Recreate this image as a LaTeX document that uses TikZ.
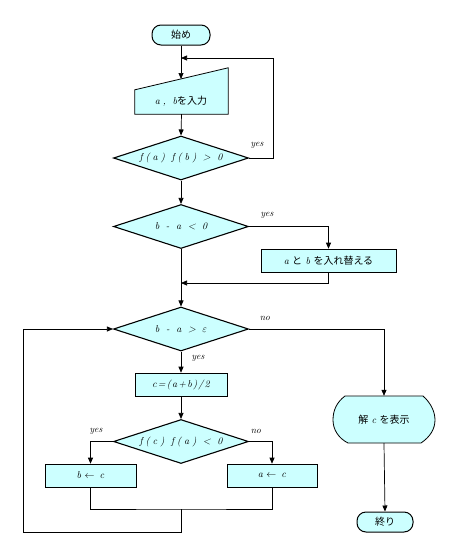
\documentclass[tikz,border=0pt]{standalone}
\usepackage{fontspec}
\newfontfamily\jp{Noto Sans CJK JP}
\newfontfamily\spit{lmroman10-italic.otf}[LetterSpace=30]
\newfontfamily\spitn{lmroman10-italic.otf}[LetterSpace=12]
\usetikzlibrary{arrows.meta,shapes.geometric,calc}
\definecolor{boxfill}{RGB}{204,255,255}
\newcommand\lt[1]{{\spit #1}}
\tikzset{
 base/.style={font=\fontsize{10}{12}\selectfont},
 proc/.style={base, draw, fill=boxfill, line width=0.6pt, minimum height=23pt, inner sep=0pt},
 dec/.style={base, diamond, draw, fill=boxfill, line width=1.1pt, aspect=3, inner sep=0pt, minimum width=135pt, minimum height=44pt},
 term/.style={base, draw, fill=boxfill, rounded corners=9pt, line width=1pt, minimum height=20pt, inner sep=0pt},
 shp/.style={draw, fill=boxfill, line width=0.8pt},
 conn/.style={line width=0.7pt},
 arr/.style={conn, -{Triangle[length=6pt,width=5pt]}},
 lbl/.style={font=\fontsize{9.5}{11}\selectfont\itshape, inner sep=0pt}
}
\begin{document}
\begin{tikzpicture}[x=1pt,y=-1pt]
\useasboundingbox (0,0) rectangle (476,555);
% start
\node[term, minimum width=58pt] (start) at (181,35) {\jp 始め};
% manual input
\node[minimum width=93pt, minimum height=46pt, inner sep=0pt] (inp) at (181.5,91) {};
\draw[shp] (inp.south west) -- (inp.south east) -- (inp.north east) -- ($(inp.north west)+(0,22)$) -- cycle;
\node[base, inner sep=0pt] (inptext) at (181,101) {\lt{a, b}{\jp を入力}};
\coordinate (inptop) at (181,79);
\coordinate (j1) at (181,58);
% decisions
\node[dec] (d1) at (181,158) {\lt{f(a) f(b) > 0}};
\node[dec] (d2) at (181,226.5) {\lt{b - a < 0}};
\node[proc, minimum width=135pt] (swap) at (328.5,260.5) {\lt{a} {\jp と} \lt{b} {\jp を入れ替える}};
\coordinate (j2) at (181,283);
\node[dec] (d3) at (181,329) {\lt{b - a > }$\varepsilon$};
\node[proc, minimum width=92pt] (cbox) at (181,384.5) {{\spitn c=(a+b)/2}};
\node[dec] (d4) at (181,441.5) {\lt{f(c) f(a) < 0}};
\node[proc, minimum width=91pt] (bbox) at (90.5,475.5) {\lt{b} $\leftarrow$\, \lt{c}};
\node[proc, minimum width=90pt] (abox) at (272,475.5) {\lt{a} $\leftarrow$\, \lt{c}};
\coordinate (m) at (181,509);
\coordinate (lb) at (23,532);
% display
\node[minimum width=102pt, minimum height=47pt, inner sep=0pt] (disp) at (384,419.5) {};
\draw[shp] (345,396) -- (423,396) .. controls (431,403) and (435,412) .. (435,420)
  .. controls (435,429) and (430,437) .. (421,443) -- (348,443)
  .. controls (338,438) and (333,429) .. (333,420)
  .. controls (333,410) and (337,402) .. (345,396) -- cycle;
\node[base, inner sep=0pt] (disptext) at (384,420) {{\jp 解} \lt{c} {\jp を表示}};
\node[term, minimum width=56pt] (end) at (385,522) {\jp 終り};
% connectors
\draw[arr] (start.south) -- (inptop);
\draw[arr] (d1.east) -- ++(24,0) |- (j1);
\draw[arr] (inp.south) -- (d1.north);
\draw[arr] (d1.south) -- (d2.north);
\draw[arr] (d2.east) -| (swap.north);
\draw[arr] (swap.south) |- (j2);
\draw[arr] (d2.south) -- (d3.north);
\draw[arr] (d3.east) -| (disp.north);
\draw[arr] (d3.south) -- (cbox.north);
\draw[arr] (cbox.south) -- (d4.north);
\draw[arr] (d4.west) -| (bbox.north);
\draw[arr] (d4.east) -| (abox.north);
\draw[conn] (bbox.south) |- (m) -| (abox.south);
\draw[arr] (m) |- (lb) |- (d3.west);
\draw[arr] (disp.south) -- (end.north);
% labels
\node[lbl] (l1) at (257,145) {yes};
\node[lbl] (l2) at (267,215) {yes};
\node[lbl] (l3) at (265,318) {no};
\node[lbl] (l4) at (198,358) {yes};
\node[lbl] (l5) at (96,431) {yes};
\node[lbl] (l6) at (256,431) {no};
\end{tikzpicture}
\end{document}
